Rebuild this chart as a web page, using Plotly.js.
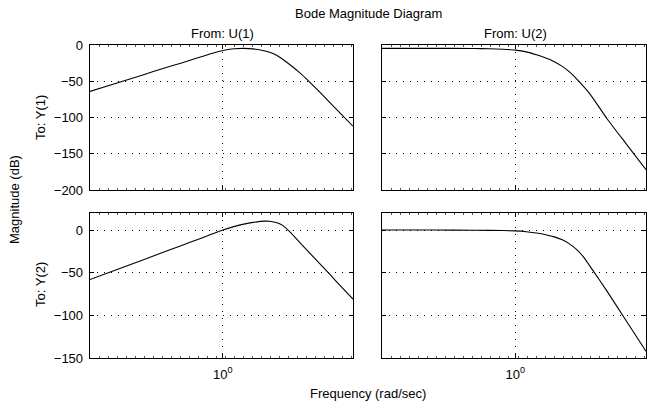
<!DOCTYPE html>
<html>
<head>
<meta charset="utf-8">
<script src="https://cdn.plot.ly/plotly-3.0.1.min.js"></script>
<style>html,body{margin:0;padding:0;background:#fff;}#chart{width:656px;height:402px;}</style>
</head>
<body>
<div id="chart"></div>
<script>
// Frequencies (rad/sec) and magnitudes (dB)
const freqY1U1 = [0.316, 0.4, 0.5, 0.6, 0.7, 0.8, 0.9, 1.0, 1.1, 1.2, 1.3, 1.4, 1.5, 1.6, 1.7, 1.8, 1.95, 2.1, 2.26, 2.53, 2.8, 3.09];
const magY1U1  = [-64, -52.5, -41.3, -32, -24.7, -18, -12.2, -7.5, -5.2, -4.6, -5.3, -7.2, -10, -14.5, -21, -28, -38.5, -49.5, -61, -79.5, -96, -112];

const freqY1U2 = [0.316, 0.5, 0.7, 0.8, 0.9, 1.0, 1.1, 1.2, 1.3, 1.4, 1.5, 1.6, 1.7, 1.9, 2.2, 2.6, 3.09];
const magY1U2  = [-4.6, -4.6, -4.8, -5.2, -5.9, -7, -9.5, -13.5, -18, -23, -29.5, -37.5, -47, -67, -101, -136, -172];

const freqY2U1 = [0.316, 0.4, 0.5, 0.6, 0.7, 0.8, 0.9, 1.0, 1.1, 1.2, 1.3, 1.44, 1.5, 1.6, 1.68, 1.8, 1.95, 2.2, 2.53, 2.8, 3.09];
const magY2U1  = [-58, -46.2, -35, -25.8, -18, -11.3, -5.3, 0, 4, 7, 9, 10.5, 10.3, 8.5, 5.5, -3, -14.8, -32, -52, -67, -81];

const freqY2U2 = [0.316, 0.5, 0.7, 0.9, 1.0, 1.1, 1.2, 1.3, 1.4, 1.5, 1.6, 1.7, 1.8, 1.95, 2.2, 2.6, 3.09];
const magY2U2  = [0, 0, -0.2, -0.6, -1, -2, -3.5, -5.5, -8, -11.5, -16.5, -23, -31.5, -47, -71, -106, -142];

const xTickVals = [1];
const xTickText = ['10<sup>0</sup>'];
const yTicksTop = [0, -50, -100, -150, -200];
const yTicksBottom = [0, -50, -100, -150];

const titleText = 'Bode Magnitude Diagram';
const colTitles = ['From: U(1)', 'From: U(2)'];
const rowTitles = ['To: Y(1)', 'To: Y(2)'];
const xLabel = 'Frequency (rad/sec)';
const yLabel = 'Magnitude (dB)';

const FONT = 'Liberation Sans, Arial, Helvetica, sans-serif';
const FS = 13;
const xr = [-0.5, 0.49];
const minorVals = [];
for (let v = xr[0]; v <= xr[1]; v += 0.034) minorVals.push(Math.pow(10, v));

function xax(domain, anchor, showLabels) {
  return {
    type: 'log', domain: domain, anchor: anchor, range: xr,
    tickmode: 'array', tickvals: xTickVals, ticktext: xTickText,
    showticklabels: showLabels, ticks: 'inside', ticklen: 4, tickcolor: '#000', tickwidth: 1,
    showgrid: true, gridcolor: '#000', gridwidth: 1, griddash: '1px,6px',
    showline: true, linecolor: '#000', linewidth: 1.3, mirror: 'ticks',
    zeroline: false, ticklabelstandoff: 4,
    minor: {tickmode: 'array', tickvals: minorVals, ticks: 'inside', ticklen: 2, tickcolor: '#555', tickwidth: 1, showgrid: false},
    tickfont: {family: FONT, size: FS, color: '#000'}
  };
}
function yax(domain, anchor, range, tv, showLabels) {
  return {
    domain: domain, anchor: anchor, range: range,
    tickmode: 'array', tickvals: tv,
    showticklabels: showLabels, ticks: 'inside', ticklen: 4, tickcolor: '#000', tickwidth: 1,
    showgrid: true, gridcolor: '#000', gridwidth: 1, griddash: '1px,6px',
    showline: true, linecolor: '#000', linewidth: 1.3, mirror: 'ticks',
    zeroline: false, ticklabelstandoff: 3,
    tickfont: {family: FONT, size: FS, color: '#000'}
  };
}

const dxL = [90/656, 353/656], dxR = [382/656, 646/656];
const dyT = [(402-190)/402, (402-45)/402], dyB = [(402-358)/402, (402-213)/402];

const lineStyle = {color: '#000', width: 1.1, shape: 'spline', smoothing: 0.5};
const data = [
  {x: freqY1U1, y: magY1U1, xaxis: 'x', yaxis: 'y'},
  {x: freqY1U2, y: magY1U2, xaxis: 'x2', yaxis: 'y2'},
  {x: freqY2U1, y: magY2U1, xaxis: 'x3', yaxis: 'y3'},
  {x: freqY2U2, y: magY2U2, xaxis: 'x4', yaxis: 'y4'}
].map(t => Object.assign(t, {mode: 'lines', line: Object.assign({}, lineStyle), hoverinfo: 'skip'}));

function ann(text, x, y, rot) {
  return {text: text, xref: 'paper', yref: 'paper', x: x, y: y, showarrow: false,
    textangle: rot || 0, xanchor: 'center', yanchor: 'middle',
    font: {family: FONT, size: FS, color: '#000'}};
}

const layout = {
  width: 656, height: 402,
  margin: {l: 0, r: 0, t: 0, b: 0},
  paper_bgcolor: '#fff', plot_bgcolor: '#fff',
  showlegend: false,
  xaxis: xax(dxL, 'y', false),
  xaxis2: xax(dxR, 'y2', false),
  xaxis3: xax(dxL, 'y3', true),
  xaxis4: xax(dxR, 'y4', true),
  yaxis: yax(dyT, 'x', [-200, 0], yTicksTop, true),
  yaxis2: yax(dyT, 'x2', [-200, 0], yTicksTop, false),
  yaxis3: yax(dyB, 'x3', [-150, 20], yTicksBottom, true),
  yaxis4: yax(dyB, 'x4', [-150, 20], yTicksBottom, false),
  annotations: [
    ann(titleText, 368/656, 1 - 14/402),
    ann(colTitles[0], 222/656, 1 - 33/402),
    ann(colTitles[1], 515/656, 1 - 33/402),
    ann(rowTitles[0], 40/656, 1 - 118/402, -90),
    ann(rowTitles[1], 40/656, 1 - 285/402, -90),
    ann(yLabel, 15/656, 1 - 200/402, -90),
    ann(xLabel, 368/656, 1 - 393/402)
  ]
};

Plotly.newPlot('chart', data, layout, {staticPlot: true, displayModeBar: false});
</script>
</body>
</html>
